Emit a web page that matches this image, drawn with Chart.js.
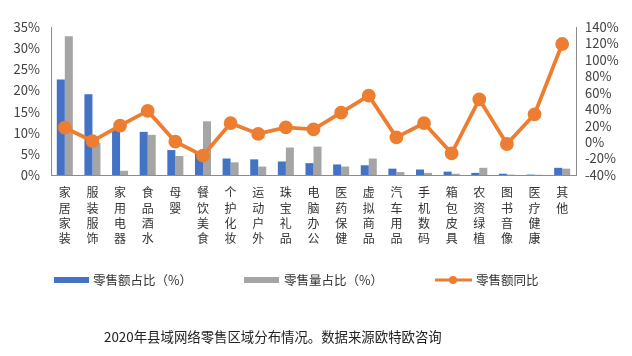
<!DOCTYPE html>
<html><head><meta charset="utf-8">
<script src="https://cdn.jsdelivr.net/npm/chart.js@4"></script>
<style>
html,body{margin:0;padding:0;background:#fff;}
#wrap{position:relative;width:632px;height:356px;}
#cap{position:absolute;left:104px;top:326px;font-family:"Noto Sans CJK SC",sans-serif;font-size:13.4px;color:#222;white-space:nowrap;}
</style></head>
<body>
<div id="wrap"><canvas id="c" width="632" height="356"></canvas>
<div id="cap">2020年县域网络零售区域分布情况。数据来源欧特欧咨询</div></div>
<script>
const categories = ['家居家装','服装服饰','家用电器','食品酒水','母婴','餐饮美食','个护化妆','运动户外','珠宝礼品','电脑办公','医药保健','虚拟商品','汽车用品','手机数码','箱包皮具','农资绿植','图书音像','医疗健康','其他'];
const salesShare = [22.6,19.1,10.6,10.2,5.9,5.2,3.9,3.7,3.2,2.8,2.5,2.3,1.5,1.3,0.8,0.5,0.3,0.1,1.7];
const volumeShare = [32.8,7.6,1.0,9.5,4.5,12.7,3.0,2.0,6.5,6.7,2.0,3.9,0.7,0.5,0.3,1.7,0.1,0.05,1.5];
const salesGrowth = [17.5,1.3,20,38,0.5,-16.5,23,10,18,15.5,35.8,56.5,5.8,23,-13.6,52,-2.3,33.8,119.3];
const seriesNames = ['零售额占比（%）','零售量占比（%）','零售额同比'];
const leftTicks = [0,5,10,15,20,25,30,35];
const rightTicks = [-40,-20,0,20,40,60,80,100,120,140];

const BLUE='#4472C4', GRAY='#A5A5A5', ORANGE='#ED7D31';
const FONT='"Noto Sans CJK SC", sans-serif';

const legendPlugin = {
  id:'customLegend',
  afterDraw(chart){
    const ctx=chart.ctx; ctx.save();
    ctx.font='12.5px '+FONT; ctx.textBaseline='middle';
    const y=280;
    ctx.fillStyle=BLUE; ctx.fillRect(54,277,35,6);
    ctx.fillStyle='#333'; ctx.fillText(seriesNames[0],93,y);
    ctx.fillStyle=GRAY; ctx.fillRect(244,277,35,6);
    ctx.fillStyle='#333'; ctx.fillText(seriesNames[1],284,y);
    ctx.strokeStyle=ORANGE; ctx.lineWidth=3; ctx.beginPath(); ctx.moveTo(435,y); ctx.lineTo(472,y); ctx.stroke();
    ctx.fillStyle=ORANGE; ctx.beginPath(); ctx.arc(453,y,4,0,Math.PI*2); ctx.fill();
    ctx.fillStyle='#333'; ctx.fillText(seriesNames[2],476,y);
    ctx.restore();
  }
};

new Chart(document.getElementById('c'),{
  type:'bar',
  data:{
    labels:categories.map(s=>s.split('')),
    datasets:[
      {type:'line',label:seriesNames[2],data:salesGrowth,yAxisID:'y1',borderColor:ORANGE,backgroundColor:ORANGE,borderWidth:3.8,pointRadius:5,pointBackgroundColor:ORANGE,pointBorderColor:ORANGE,tension:0,order:0},
      {label:seriesNames[0],data:salesShare,yAxisID:'y',backgroundColor:BLUE,barPercentage:1,categoryPercentage:0.58,order:1},
      {label:seriesNames[1],data:volumeShare,yAxisID:'y',backgroundColor:GRAY,barPercentage:1,categoryPercentage:0.58,order:2}
    ]
  },
  options:{
    responsive:false,animation:false,
    layout:{padding:{top:27,left:0,right:0,bottom:0}},
    plugins:{legend:{display:false},tooltip:{enabled:false}},
    scales:{
      x:{
        grid:{display:false,drawTicks:false},
        border:{display:true,color:'#8c8c8c',width:1},
        ticks:{font:{family:FONT,size:12,lineHeight:1.28},color:'#333',maxRotation:0,minRotation:0,autoSkip:false,padding:10},
        afterFit(s){s.height=181;}
      },
      y:{
        position:'left',min:0,max:35,
        afterBuildTicks(s){s.ticks=leftTicks.map(v=>({value:v}));},
        grid:{display:false,drawTicks:false},
        border:{display:true,color:'#8c8c8c',width:1},
        ticks:{font:{family:FONT,size:13},color:'#404040',padding:11,autoSkip:false,callback:v=>v+'%'},
        afterFit(s){s.width=51;}
      },
      y1:{
        position:'right',min:-40,max:140,
        afterBuildTicks(s){s.ticks=rightTicks.map(v=>({value:v}));},
        grid:{display:false,drawTicks:false},
        border:{display:true,color:'#8c8c8c',width:1},
        ticks:{font:{family:FONT,size:13},color:'#404040',padding:9,autoSkip:false,callback:v=>v+'%'},
        afterFit(s){s.width=56;}
      }
    }
  },
  plugins:[legendPlugin]
});
</script>
</body></html>
